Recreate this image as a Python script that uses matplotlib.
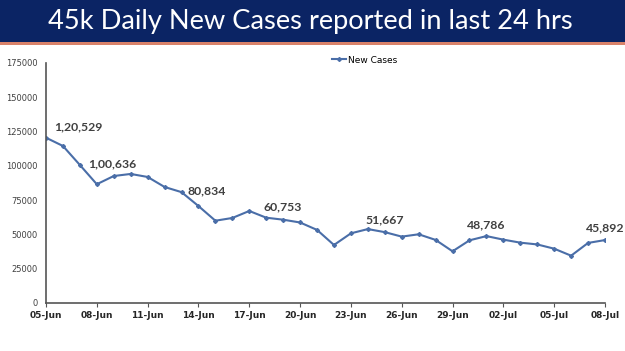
import matplotlib
matplotlib.use("Agg")
import matplotlib.pyplot as plt
from matplotlib.patches import Rectangle
import numpy as np

# daily new cases, 05-Jun .. 08-Jul
dates = ["05-Jun", "06-Jun", "07-Jun", "08-Jun", "09-Jun", "10-Jun", "11-Jun", "12-Jun",
         "13-Jun", "14-Jun", "15-Jun", "16-Jun", "17-Jun", "18-Jun", "19-Jun", "20-Jun",
         "21-Jun", "22-Jun", "23-Jun", "24-Jun", "25-Jun", "26-Jun", "27-Jun", "28-Jun",
         "29-Jun", "30-Jun", "01-Jul", "02-Jul", "03-Jul", "04-Jul", "05-Jul", "06-Jul",
         "07-Jul", "08-Jul"]
cases = [120529, 114500, 100636, 86600, 92600, 94100, 91900, 84600,
         80834, 70700, 60000, 62000, 67100, 62200, 60753, 58700,
         53300, 42300, 50800, 53900, 51667, 48400, 50100, 46000,
         37700, 45700, 48786, 46200, 44000, 42700, 39600, 34500,
         43800, 45892]

# labelled points: index, text, offset in points, horizontal alignment
labels = [(0, "1,20,529", (6, 8), "left"), (2, "1,00,636", (6, 1), "left"),
          (8, "80,834", (4, 1), "left"), (14, "60,753", (0, 9), "center"),
          (20, "51,667", (0, 9), "center"), (26, "48,786", (0, 8), "center"),
          (33, "45,892", (0, 9), "center")]

yticks = [0, 25000, 50000, 75000, 100000, 125000, 150000, 175000]

plt.rcParams['font.family'] = ['DejaVu Sans']
fig = plt.figure(figsize=(6.25, 3.51), dpi=100)

# title band
fig.patches.append(Rectangle((0, 1 - 42 / 351), 1, 42 / 351, transform=fig.transFigure,
                             facecolor="#0b2464", edgecolor="none", zorder=0))
fig.patches.append(Rectangle((0, 1 - 45 / 351), 1, 3 / 351, transform=fig.transFigure,
                             facecolor="#d9826a", edgecolor="none", zorder=0))
fig.text(0.496, 1 - 21 / 351, "45k Daily New Cases reported in last 24 hrs", color="white",
         fontsize=19.6, family="Lato", ha="center", va="center")

ax = fig.add_axes([46 / 625, 1 - 303 / 351, 559 / 625, 240 / 351])
x = np.arange(len(cases))
ax.plot(x, cases, color="#4a6ea8", lw=1.5, marker="D", ms=2, label="New Cases")

for i, txt, off, ha in labels:
    ax.annotate(txt, (x[i], cases[i]), xytext=off, textcoords="offset points",
                fontsize=8.8, fontweight="bold", family="Lato", color="#404040",
                ha=ha, va="center", annotation_clip=False)

ax.set_xlim(0, len(cases) - 1)
ax.set_ylim(0, 175000)
ax.set_yticks(yticks)
ax.set_yticklabels([str(v) for v in yticks], fontsize=6, color="#404040")
ax.set_xticks(x[::3])
ax.set_xticklabels(dates[::3], fontsize=6.5, fontweight="bold", color="#262626")
ax.tick_params(axis="y", length=0, pad=6)
ax.tick_params(axis="x", length=3, color="#555555", pad=3)

for s in ["top", "right"]:
    ax.spines[s].set_visible(False)
for s in ["left", "bottom"]:
    ax.spines[s].set_color("#555555")
    ax.spines[s].set_linewidth(1.2)

ax.legend(loc="upper center", bbox_to_anchor=(0.57, 1.065), frameon=False, fontsize=6.5,
          handlelength=1.5, handletextpad=0.2)

fig.savefig("out.png", dpi=100)
